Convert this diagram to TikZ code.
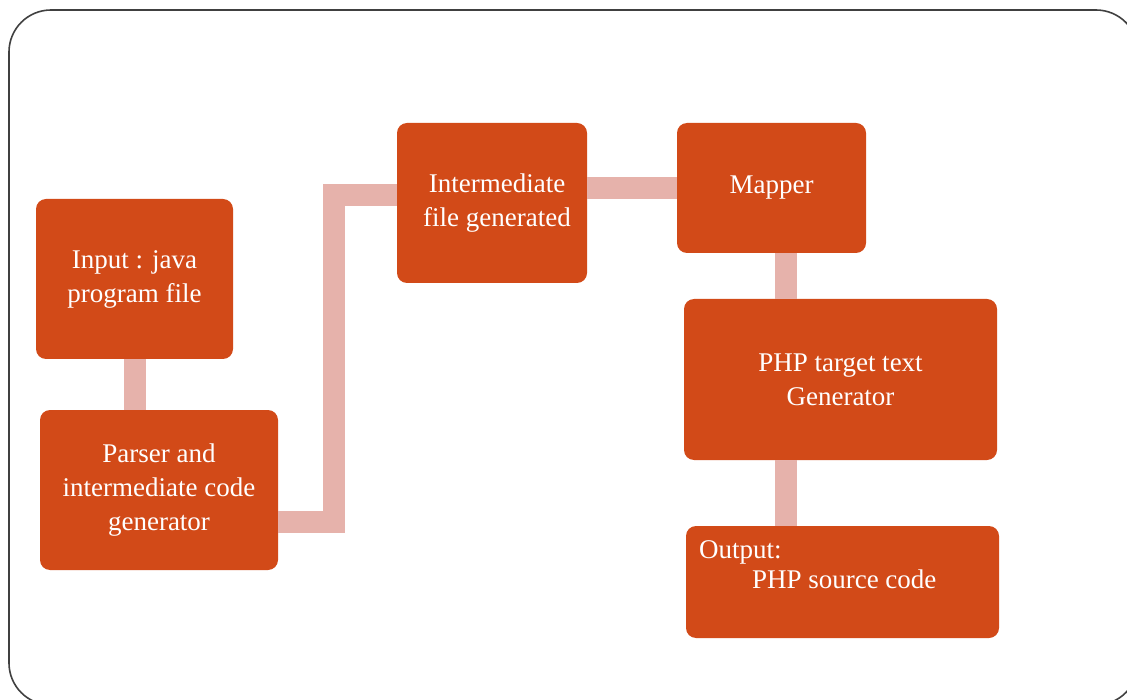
\documentclass[tikz,border=0pt]{standalone}
\usepackage{fontspec}
\setmainfont{Liberation Serif}
\usetikzlibrary{positioning}
\definecolor{boxred}{HTML}{D24A18}
\definecolor{linkpink}{HTML}{E6B2AB}
\definecolor{framegray}{HTML}{404040}

\begin{document}
\begin{tikzpicture}[
  x=1pt, y=-1pt,
  every node/.style={font=\fontsize{27}{34}\selectfont},
  box/.style  ={align=center, rounded corners=10pt, inner sep=0pt, fill=boxred, text=white},
  link/.style ={draw=linkpink, line width=22pt},
  frame/.style={draw=framegray, line width=1.6pt, rounded corners=42pt},
]
  \useasboundingbox (0,0) rectangle (1127,700);
  \draw[frame] (9,10) rectangle (1138,705);
  % boxes
  \node[box, minimum width=197pt, minimum height=160pt] (input)  at (134.5,279) {Input : java\\program file};
  \node[box, minimum width=238pt, minimum height=160pt] (parser) at (159,490)   {Parser and\\intermediate code\\generator};
  \node[box, minimum width=190pt, minimum height=160pt] (inter)  at (492,203)   {\hspace*{10pt}Intermediate\\\hspace*{10pt}file generated};
  \node[box, minimum width=189pt, minimum height=130pt] (mapper) at (771.5,188) {Mapper};
  \node[box, minimum width=313pt, minimum height=161pt] (gen)    at (840.5,379.5) {PHP target text\\Generator};
  \node[box, minimum width=313pt, minimum height=112pt] (out)    at (842.5,582) {};
  \node[anchor=north west, align=left, text=white, inner sep=0pt,
        font=\fontsize{27}{30}\selectfont] (outtext) at ([xshift=13pt,yshift=-15pt]out.north west)
        {Output:\\\hspace*{53pt}PHP source code};
  % links
  \draw[link] (input.south) -- (input.south |- parser.north);
  \draw[link] ([yshift=-32pt]parser.east) -- ++(56,0) |- ([yshift=8pt]inter.west);
  \draw[link] (mapper.west) -- (mapper.west -| inter.east);
  \draw[link] ([xshift=14pt]mapper.south) -- ([xshift=14pt]mapper.south |- gen.north);
  \draw[link] ([xshift=14pt]mapper.south |- gen.south) -- ([xshift=14pt]mapper.south |- out.north);
\end{tikzpicture}
\end{document}
